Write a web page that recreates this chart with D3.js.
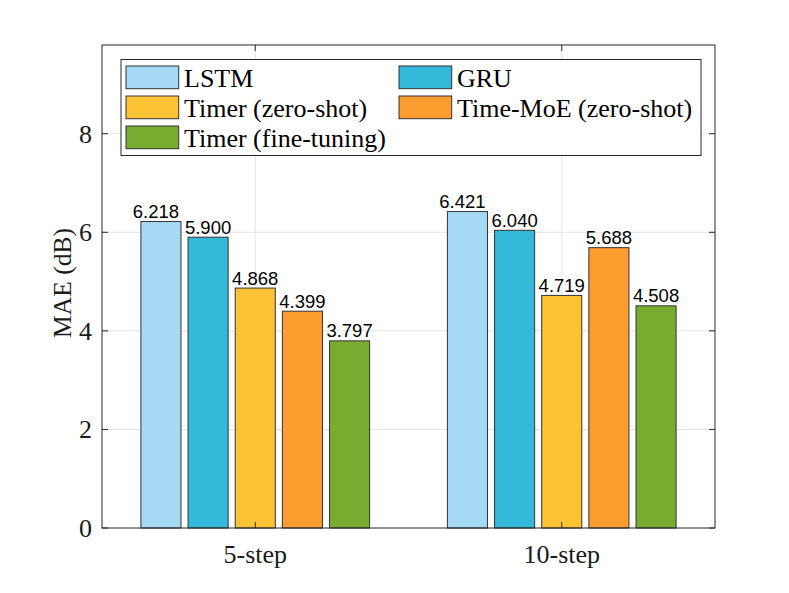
<!DOCTYPE html>
<html><head><meta charset="utf-8">
<script src="https://cdn.jsdelivr.net/npm/d3@7"></script>
<style>body{margin:0;background:#fff}svg{display:block}</style>
</head><body>
<svg id="chart" width="789" height="593"></svg>
<script>
const categories = ["5-step", "10-step"];
const seriesNames = ["LSTM", "GRU", "Timer (zero-shot)", "Time-MoE (zero-shot)", "Timer (fine-tuning)"];
const lstmValues = [6.218, 6.421];
const gruValues = [5.900, 6.040];
const timerZeroValues = [4.868, 4.719];
const timeMoeValues = [4.399, 5.688];
const timerFineValues = [3.797, 4.508];
const seriesColors = ["#A6D9F3", "#34B9DA", "#FEC334", "#FE9D2F", "#77AC30"];
const yTicks = [0, 2, 4, 6, 8];
const yLabel = "MAE (dB)";

const seriesValues = [lstmValues, gruValues, timerZeroValues, timeMoeValues, timerFineValues];

const svg = d3.select("#chart");
svg.append("rect").attr("width", 789).attr("height", 593).attr("fill", "#fff");

const L = 102, R = 715, T = 45, B = 528;
const x = d3.scaleLinear().domain([0.5, categories.length + 0.5]).range([L, R]);
const y = d3.scaleLinear().domain([0, 9.8]).range([B, T]);

const serif = "'Liberation Serif','Times New Roman',serif";
const sans = "'Liberation Sans',Arial,Helvetica,sans-serif";

// grid
const g = svg.append("g");
g.selectAll(".gy").data(yTicks.filter(d => d > 0)).join("line")
  .attr("x1", L).attr("x2", R).attr("y1", d => y(d)).attr("y2", d => y(d))
  .attr("stroke", "#e3e3e3").attr("stroke-width", 1);
g.selectAll(".gx").data(categories).join("line")
  .attr("x1", (d, i) => x(i + 1)).attr("x2", (d, i) => x(i + 1))
  .attr("y1", T).attr("y2", B)
  .attr("stroke", "#e3e3e3").attr("stroke-width", 1);

// bars
const n = seriesNames.length;
const groupWidth = Math.min(0.8, n / (n + 1.5));
const spacing = groupWidth / n;
const barW = spacing * 0.85;
const barsG = svg.append("g");
seriesValues.forEach((vals, s) => {
  const off = (s - (n - 1) / 2) * spacing;
  const labelDx = s === 0 ? -5 : 0;
  barsG.selectAll(".b" + s).data(vals).join("rect")
    .attr("x", (d, i) => x(i + 1 + off - barW / 2))
    .attr("width", x(barW) - x(0))
    .attr("y", d => y(d))
    .attr("height", d => y(0) - y(d))
    .attr("fill", seriesColors[s])
    .attr("stroke", "#333").attr("stroke-width", 1);
  barsG.selectAll(".t" + s).data(vals).join("text")
    .attr("x", (d, i) => x(i + 1 + off) + labelDx)
    .attr("y", d => y(d) - 3.5)
    .attr("text-anchor", "middle")
    .attr("font-family", sans).attr("font-size", 18.5)
    .attr("fill", "#000")
    .text(d => d.toFixed(3));
});

// axes box
const ax = svg.append("g");
ax.append("rect").attr("x", L).attr("y", T).attr("width", R - L).attr("height", B - T)
  .attr("fill", "none").attr("stroke", "#262626").attr("stroke-width", 1);
const tl = 6;
yTicks.forEach(t => {
  ax.append("line").attr("x1", L).attr("x2", L + tl).attr("y1", y(t)).attr("y2", y(t)).attr("stroke", "#262626");
  ax.append("line").attr("x1", R).attr("x2", R - tl).attr("y1", y(t)).attr("y2", y(t)).attr("stroke", "#262626");
});
categories.forEach((c, i) => {
  ax.append("line").attr("x1", x(i + 1)).attr("x2", x(i + 1)).attr("y1", B).attr("y2", B - tl).attr("stroke", "#262626");
  ax.append("line").attr("x1", x(i + 1)).attr("x2", x(i + 1)).attr("y1", T).attr("y2", T + tl).attr("stroke", "#262626");
});
ax.selectAll(".yl").data(yTicks).join("text")
  .attr("x", L - 10).attr("y", d => y(d) + 9)
  .attr("text-anchor", "end").attr("font-family", serif).attr("font-size", 26).attr("fill", "#1a1a1a")
  .text(d => d);
ax.selectAll(".xl").data(categories).join("text")
  .attr("x", (d, i) => x(i + 1)).attr("y", 563)
  .attr("text-anchor", "middle").attr("font-family", serif).attr("font-size", 26).attr("fill", "#1a1a1a")
  .text(d => d);
ax.append("text").attr("transform", "translate(71,283) rotate(-90)")
  .attr("text-anchor", "middle").attr("font-family", serif).attr("font-size", 25.5).attr("fill", "#1a1a1a")
  .text(yLabel);

// legend
const lg = svg.append("g");
lg.append("rect").attr("x", 121).attr("y", 59.5).attr("width", 580).attr("height", 96)
  .attr("fill", "#fff").attr("stroke", "#262626").attr("stroke-width", 1);
seriesNames.forEach((name, s) => {
  const col = s % 2, row = Math.floor(s / 2);
  const sx = col === 0 ? 126 : 399;
  const sy = 66 + row * 30;
  lg.append("rect").attr("x", sx).attr("y", sy).attr("width", 52.7).attr("height", 22.7)
    .attr("fill", seriesColors[s]).attr("stroke", "#333").attr("stroke-width", 1);
  lg.append("text").attr("x", sx + 58).attr("y", sy + 20.5)
    .attr("font-family", serif).attr("font-size", 26).attr("fill", "#000")
    .text(name);
});
</script>
</body></html>
